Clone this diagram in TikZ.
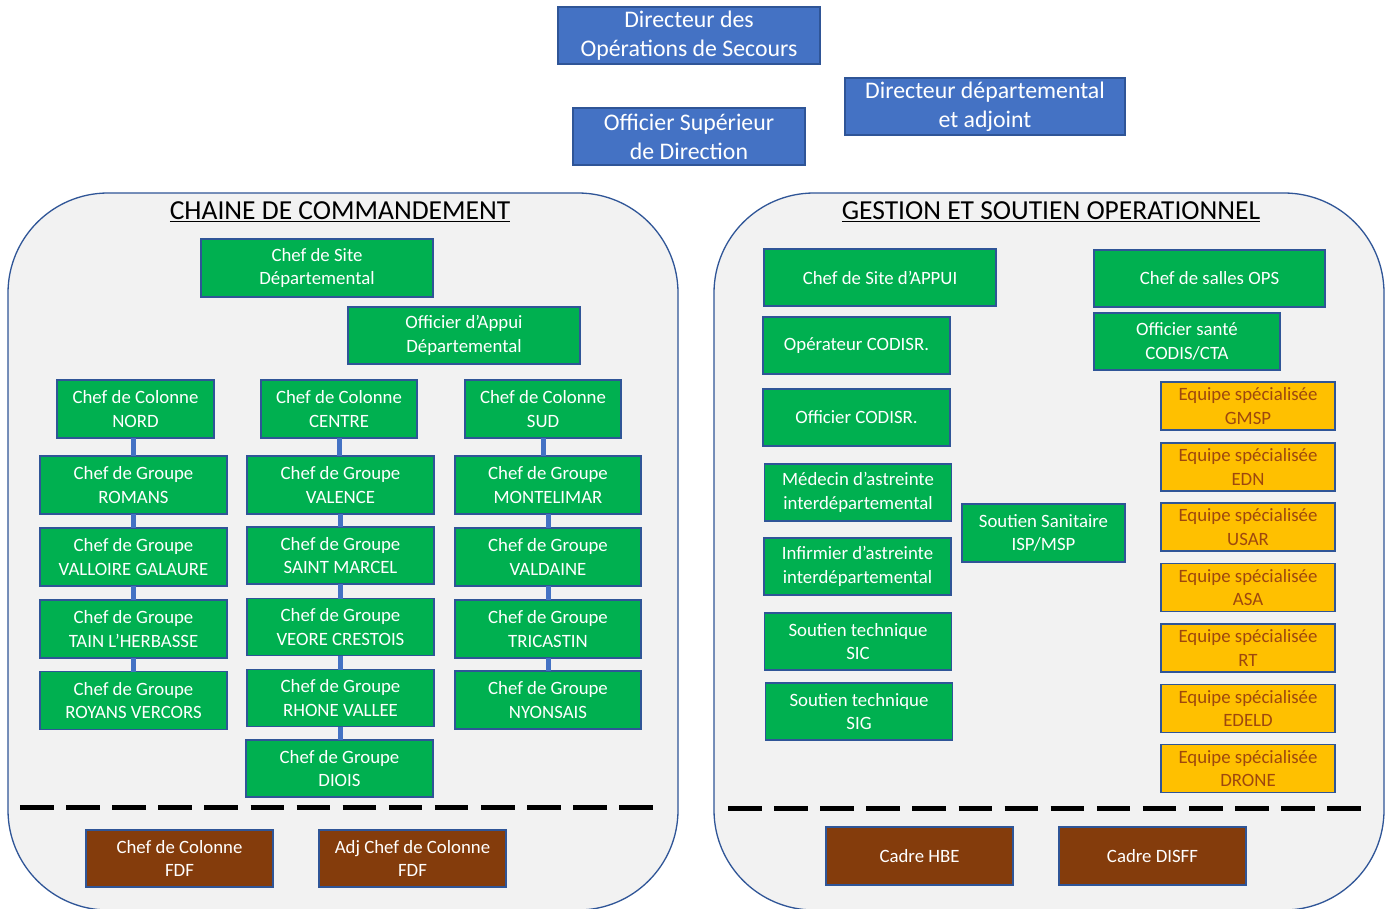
\documentclass[tikz,border=0pt]{standalone}
\usepackage{fontspec}
\setmainfont{Carlito}
\definecolor{grn}{HTML}{00B050}
\definecolor{bdr}{HTML}{2F5597}
\definecolor{blu}{HTML}{4472C4}
\definecolor{brn}{HTML}{843C0C}
\definecolor{org}{HTML}{FFC000}
\definecolor{orgtxt}{RGB}{158,72,14}
\definecolor{pnl}{HTML}{F2F2F2}
\tikzset{
  box/.style={draw=bdr, line width=1.3pt, inner sep=0pt, outer sep=0pt, align=center,
    font=\fontsize{18.8}{23.3}\selectfont},
  gbox/.style={box, fill=grn, text=white, minimum width=187pt, minimum height=57pt},
  bbox/.style={box, fill=blu, text=white, minimum height=57pt,
    font=\fontsize{23.8}{29.2}\selectfont},
  brbox/.style={box, fill=brn, text=white, minimum width=187pt, minimum height=57pt},
  obox/.style={box, fill=org, text=orgtxt, minimum width=174pt, minimum height=48pt},
  panel/.style={draw=bdr, line width=1.3pt, fill=pnl, rounded corners=100pt},
  conn/.style={draw=blu, line width=5pt},
  sep/.style={draw=black, line width=5pt, dash pattern=on 33.5pt off 12.6pt},
  ttl/.style={font=\fontsize{27.5}{30}\selectfont, inner sep=0pt}
}
\begin{document}
\begin{tikzpicture}[x=1pt,y=-1pt]
\useasboundingbox (0,0) rectangle (1392,908);
\fill[white] (0,0) rectangle (1392,908);
\begin{scope}
\clip (0,0) rectangle (1392,908);
\draw[panel] (8,193) rectangle (678,910);
\draw[panel] (714,193) rectangle (1384,910);
\end{scope}

% top blue boxes
\node[bbox, minimum width=262pt] (dos) at (689,35.5) {Directeur des\\Opérations de Secours};
\node[bbox, minimum width=232pt] (osd) at (689,136.5) {Officier Supérieur\\de Direction};
\node[bbox, minimum width=280pt] (dda) at (985,106.5) {Directeur départemental\\et adjoint};

% titles
\node[ttl] (t1) at (340,212) {\underline{CHAINE DE COMMANDEMENT}};
\node[ttl] (t2) at (1051,212) {\underline{GESTION ET SOUTIEN OPERATIONNEL}};

% left panel
\node[gbox, minimum width=232pt, minimum height=58pt] (csd) at (317,268) {Chef de Site\\Départemental};
\node[gbox, minimum width=232pt] (oad) at (464,335.5) {Officier d’Appui\\Départemental};
\node[gbox, minimum width=157pt, minimum height=58pt] (nord) at (135.5,409) {Chef de Colonne\\NORD};
\node[gbox, minimum width=156pt, minimum height=58pt] (centre) at (339,409) {Chef de Colonne\\CENTRE};
\node[gbox, minimum width=156pt, minimum height=58pt] (sud) at (543,409) {Chef de Colonne\\SUD};

\node[gbox, minimum height=58pt] (n1) at (133.5,485) {Chef de Groupe\\ROMANS};
\node[gbox, minimum height=58pt] (n2) at (133.5,557) {Chef de Groupe\\VALLOIRE GALAURE};
\node[gbox, minimum height=58pt] (n3) at (133.5,629) {Chef de Groupe\\TAIN L’HERBASSE};
\node[gbox, minimum height=58pt] (n4) at (133.5,700.5) {Chef de Groupe\\ROYANS VERCORS};

\node[gbox, minimum height=58pt] (c1) at (340.5,485) {Chef de Groupe\\VALENCE};
\node[gbox] (c2) at (340.5,555.5) {Chef de Groupe\\SAINT MARCEL};
\node[gbox] (c3) at (340.5,627) {Chef de Groupe\\VEORE CRESTOIS};
\node[gbox] (c4) at (340.5,698) {Chef de Groupe\\RHONE VALLEE};
\node[gbox] (c5) at (339.5,768.5) {Chef de Groupe\\DIOIS};

\node[gbox, minimum width=186pt, minimum height=58pt] (s1) at (548,485) {Chef de Groupe\\MONTELIMAR};
\node[gbox, minimum width=186pt, minimum height=58pt] (s2) at (548,557) {Chef de Groupe\\VALDAINE};
\node[gbox, minimum width=186pt, minimum height=58pt] (s3) at (548,629) {Chef de Groupe\\TRICASTIN};
\node[gbox, minimum width=186pt, minimum height=58pt] (s4) at (548,700) {Chef de Groupe\\NYONSAIS};

\node[brbox] (fdf1) at (179.5,858.5) {Chef de Colonne\\FDF};
\node[brbox] (fdf2) at (412.5,858.5) {Adj Chef de Colonne\\FDF};

% right panel
\node[gbox, minimum width=232pt] (csa) at (880,277.5) {Chef de Site d’APPUI};
\node[gbox] (opc) at (856.5,345.5) {Opérateur CODISR.};
\node[gbox] (ofc) at (856.5,417.5) {Officier CODISR.};
\node[gbox] (med) at (858,492.5) {Médecin d’astreinte\\interdépartemental};
\node[gbox] (inf) at (857.5,566.5) {Infirmier d’astreinte\\interdépartemental};
\node[gbox] (sic) at (858,641.5) {Soutien technique\\SIC};
\node[gbox] (sig) at (859,711.5) {Soutien technique\\SIG};
\node[gbox, minimum width=163pt, minimum height=58pt] (ss) at (1043.5,533) {Soutien Sanitaire\\ISP/MSP};
\node[gbox, minimum width=231pt] (cso) at (1209.5,278.5) {Chef de salles OPS};
\node[gbox, minimum width=186pt] (osc) at (1187,341.5) {Officier santé\\CODIS/CTA};

\node[obox] (e1) at (1248,406) {Equipe spécialisée\\GMSP};
\node[obox] (e2) at (1248,467) {Equipe spécialisée\\EDN};
\node[obox] (e3) at (1248,527) {Equipe spécialisée\\USAR};
\node[obox] (e4) at (1248,587.5) {Equipe spécialisée\\ASA};
\node[obox] (e5) at (1248,648) {Equipe spécialisée\\RT};
\node[obox] (e6) at (1248,708.5) {Equipe spécialisée\\EDELD};
\node[obox] (e7) at (1248,768.5) {Equipe spécialisée\\DRONE};

\node[brbox, minimum height=58pt] (hbe) at (919.5,856) {Cadre HBE};
\node[brbox, minimum height=58pt] (disff) at (1152.5,856) {Cadre DISFF};

% connectors
\draw[conn] (n1.north) -- (n1.north |- nord.south);
\draw[conn] (n1.south) -- (n2.north);
\draw[conn] (n2.south) -- (n3.north);
\draw[conn] (n3.south) -- (n4.north);
\draw[conn] (centre.south) -- (centre.south |- c1.north);
\draw[conn] (c1.south) -- (c2.north);
\draw[conn] (c2.south) -- (c3.north);
\draw[conn] (c3.south) -- (c4.north);
\draw[conn] (c4.south) -- (c4.south |- c5.north);
\draw[conn] (sud.south) -- (sud.south |- s1.north);
\draw[conn] (s1.south) -- (s2.north);
\draw[conn] (s2.south) -- (s3.north);
\draw[conn] (s3.south) -- (s4.north);

% separators
\coordinate (d1a) at (20,807);
\coordinate (d1b) at (655,807);
\coordinate (d2a) at (728,808);
\coordinate (d2b) at (1361,808);
\draw[sep] (d1a) -- (d1b);
\draw[sep] (d2a) -- (d2b);
\end{tikzpicture}
\end{document}
